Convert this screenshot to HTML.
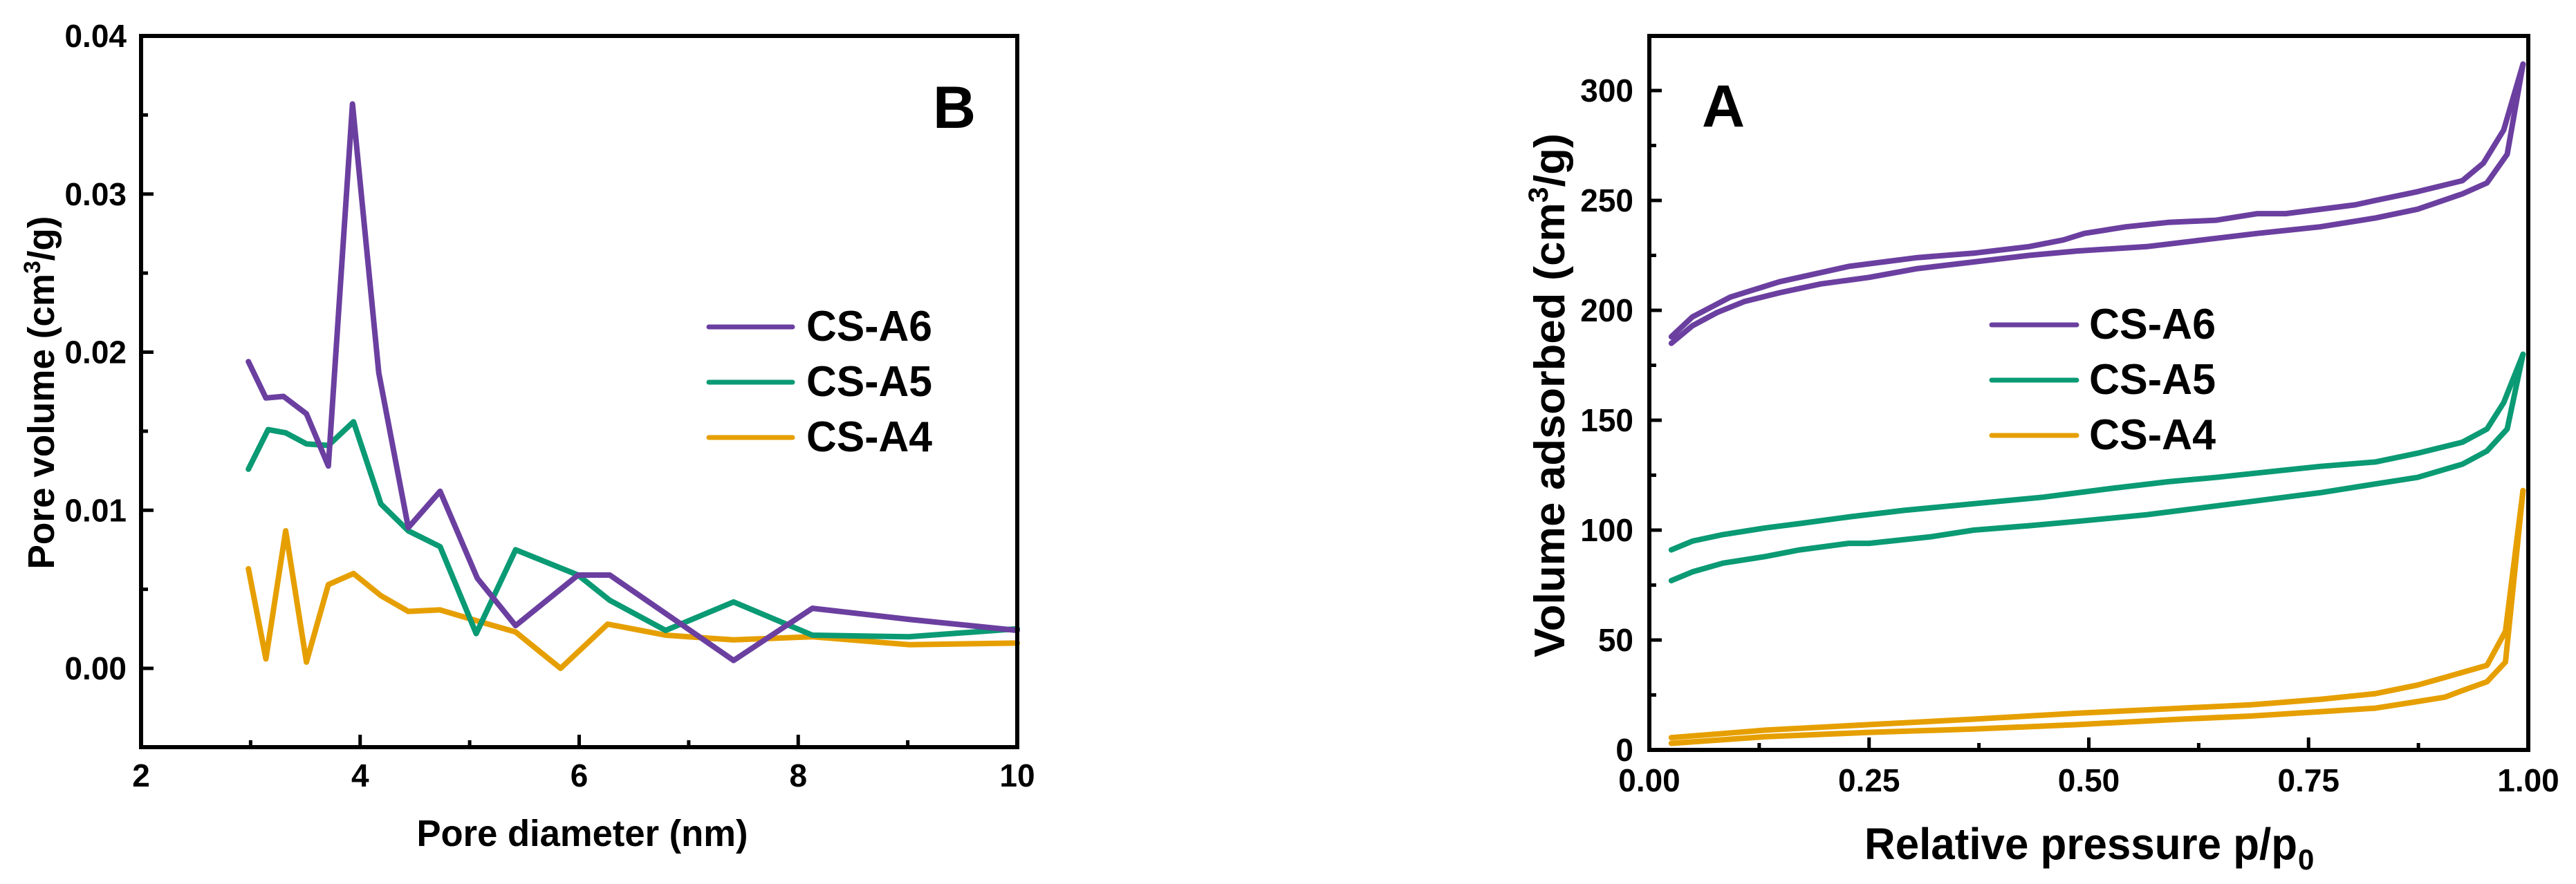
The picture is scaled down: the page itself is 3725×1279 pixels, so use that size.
<!DOCTYPE html>
<html><head><meta charset="utf-8"><style>
html,body{margin:0;padding:0;background:#fff;}
svg{display:block;font-family:"Liberation Sans",Arial,sans-serif;font-weight:bold;}
</style></head><body>
<svg id="fig" width="3725" height="1279" viewBox="0 0 3725 1279" xmlns="http://www.w3.org/2000/svg">
<rect width="3725" height="1279" fill="#fff"/>
<g id="chartB"></g>
<g id="chartA"></g>
</svg>
<script>
// ---- Chart B data (pore size distribution) ----
const bA6x = [2.98,3.14,3.30,3.51,3.71,3.93,4.17,4.44,4.73,5.07,5.42,5.99,6.28,6.93,7.41,8.13,9.01,10.0];
const bA6y = [0.0194,0.0171,0.0172,0.0161,0.0128,0.0357,0.0187,0.0089,0.0112,0.0057,0.0027,0.0059,0.0059,0.0028,0.0005,0.0038,0.0031,0.0024];
const bA5x = [2.98,3.16,3.32,3.51,3.71,3.94,4.19,4.44,4.73,5.06,5.42,5.99,6.28,6.79,7.41,8.13,9.01,10.0];
const bA5y = [0.0126,0.0151,0.0149,0.0142,0.0141,0.0156,0.0104,0.0087,0.0077,0.0022,0.0075,0.0059,0.0043,0.0024,0.0042,0.0021,0.0020,0.0025];
const bA4x = [2.98,3.14,3.32,3.51,3.71,3.94,4.19,4.44,4.73,5.07,5.42,5.83,6.26,6.79,7.41,8.13,9.01,10.0];
const bA4y = [0.0063,0.0006,0.0087,0.0004,0.0053,0.0060,0.0046,0.0036,0.0037,0.0030,0.0023,0.0000,0.0028,0.0021,0.0018,0.0020,0.0015,0.0016];
const bXTicks = [2,4,6,8,10];
const bXTickLabels = ["2","4","6","8","10"];
const bYTicks = [0,0.01,0.02,0.03,0.04];
const bYTickLabels = ["0.00","0.01","0.02","0.03","0.04"];
// ---- Chart A data (isotherms) ----
const aA6adsX = [0.025,0.049,0.077,0.108,0.148,0.195,0.25,0.305,0.369,0.432,0.487,0.566,0.629,0.692,0.763,0.826,0.874,0.925,0.953,0.976,0.994];
const aA6adsY = [185,193,199,204,208,212,215,219,222,225,227,229,232,235,238,242,246,253,258,271,312];
const aA6desX = [0.025,0.049,0.092,0.148,0.227,0.305,0.369,0.432,0.471,0.495,0.542,0.59,0.645,0.692,0.724,0.803,0.826,0.874,0.925,0.949,0.972,0.994];
const aA6desY = [188,197,206,213,220,224,226,229,232,235,238,240,241,244,244,248,250,254,259,267,282,312];
const aA5adsX = [0.025,0.049,0.084,0.132,0.171,0.227,0.25,0.321,0.369,0.432,0.487,0.566,0.605,0.684,0.763,0.826,0.874,0.925,0.953,0.976,0.994];
const aA5adsY = [77,81,85,88,91,94,94,97,100,102,104,107,109,113,117,121,124,130,136,146,180];
const aA5desX = [0.025,0.049,0.084,0.132,0.171,0.227,0.29,0.369,0.448,0.526,0.59,0.645,0.692,0.763,0.826,0.874,0.925,0.953,0.972,0.994];
const aA5desY = [91,95,98,101,103,106,109,112,115,119,122,124,126,129,131,135,140,146,158,180];
const aA4adsX = [0.025,0.132,0.25,0.369,0.487,0.605,0.684,0.763,0.826,0.874,0.905,0.925,0.953,0.974,0.994];
const aA4adsY = [3,6,8,9.5,11.5,14,15.4,17.4,19,22,24,27,31,40,118];
const aA4desX = [0.025,0.132,0.25,0.369,0.487,0.605,0.684,0.763,0.826,0.874,0.905,0.953,0.974,0.994];
const aA4desY = [5.6,9,11.5,14,16.7,19,20.5,23,25.6,29.5,33,38.5,54,118];
const aXTicks = [0,0.25,0.5,0.75,1.0];
const aXTickLabels = ["0.00","0.25","0.50","0.75","1.00"];
const aYTicks = [0,50,100,150,200,250,300];
const aYTickLabels = ["0","50","100","150","200","250","300"];

const NS = "http://www.w3.org/2000/svg";
const C6 = "#6b3fa0", C5 = "#0a9a74", C4 = "#e69f00";
function mk(parent, tag, attrs, text){
  const e = document.createElementNS(NS, tag);
  for (const k in attrs) e.setAttribute(k, attrs[k]);
  if (text !== undefined) e.textContent = text;
  parent.appendChild(e); return e;
}
function lin(d0,d1,r0,r1){ return v => r0 + (v-d0)*(r1-r0)/(d1-d0); }
function line(g, sx, sy, xs, ys, color, w, name){
  const pts = xs.map((x,i)=>sx(x).toFixed(1)+","+sy(ys[i]).toFixed(1)).join(" ");
  const p = mk(g,"polyline",{points:pts,fill:"none",stroke:color,"stroke-width":w,"stroke-linejoin":"round","stroke-linecap":"round"});
  
  
}
function legend(g, x0, x1, tx, ys, names, colors, fs, tl){
  names.forEach((n,i)=>{
    const l = mk(g,"line",{x1:x0,x2:x1,y1:ys[i],y2:ys[i],stroke:colors[i],"stroke-width":7,"stroke-linecap":"round"});
    
    
    const t = mk(g,"text",{x:tx,y:ys[i]+20,"font-size":fs,textLength:tl,lengthAdjust:"spacingAndGlyphs"},n);
    
    
  });
}

// ===== Chart B =====
(function(){
  const g = document.getElementById("chartB");
  const L=204,R=1471,T=52,B=1081;
  const sx = lin(2,10,L,R), sy = lin(0,0.04,967,52);
  for (let v=3; v<10; v+=2){ const t=mk(g,"line",{x1:sx(v),x2:sx(v),y1:B,y2:B-10,stroke:"#000","stroke-width":5});
      }
  for (let v=-0.005; v<0.04; v+=0.01){ const t=mk(g,"line",{x1:L,x2:L+10,y1:sy(v),y2:sy(v),stroke:"#000","stroke-width":5});
      }
  bXTicks.forEach((v,i)=>{
    const t=mk(g,"line",{x1:sx(v),x2:sx(v),y1:B,y2:B-18,stroke:"#000","stroke-width":5});
     
    const lb=mk(g,"text",{x:sx(v),y:1138,"font-size":46,"text-anchor":"middle"},bXTickLabels[i]);
     
  });
  bYTicks.forEach((v,i)=>{
    const t=mk(g,"line",{x1:L,x2:L+18,y1:sy(v),y2:sy(v),stroke:"#000","stroke-width":5});
     
    const lb=mk(g,"text",{x:183,y:sy(v)+16,"font-size":46,"text-anchor":"end"},bYTickLabels[i]);
     
  });
  line(g,sx,sy,bA4x,bA4y,C4,8,"line-cs-a4");
  line(g,sx,sy,bA5x,bA5y,C5,8,"line-cs-a5");
  line(g,sx,sy,bA6x,bA6y,C6,8,"line-cs-a6");
  const fr=mk(g,"rect",{x:L,y:T,width:R-L,height:B-T,fill:"none",stroke:"#000","stroke-width":6});
   
  const pl=mk(g,"text",{x:1380,y:185,"font-size":86,"text-anchor":"middle"},"B");
   
  legend(g,1025,1146,1166,[473,553,633],["CS-A6","CS-A5","CS-A4"],[C6,C5,C4],62,182);
  const xt=mk(g,"text",{x:842,y:1224,"font-size":54,"text-anchor":"middle",textLength:479,lengthAdjust:"spacingAndGlyphs"},"Pore diameter (nm)");
   
  const yt=mk(g,"text",{x:0,y:0,"font-size":54,"text-anchor":"middle",transform:"translate(78,568) rotate(-90)",textLength:511,lengthAdjust:"spacingAndGlyphs"});
   
  yt.appendChild(document.createTextNode("Pore volume (cm"));
  mk(yt,"tspan",{"font-size":34,dy:-20},"3");
  mk(yt,"tspan",{dy:20},"/g)");
})();

// ===== Chart A =====
(function(){
  const g = document.getElementById("chartA");
  const L=2385,R=3656,T=52,B=1085;
  const sx = lin(0,1,L,R), sy = lin(0,300,1085,131);
  for (let v=0.125; v<1; v+=0.25){ const t=mk(g,"line",{x1:sx(v),x2:sx(v),y1:B,y2:B-10,stroke:"#000","stroke-width":5});
      }
  for (let v=25; v<325; v+=50){ const t=mk(g,"line",{x1:L,x2:L+10,y1:sy(v),y2:sy(v),stroke:"#000","stroke-width":5});
      }
  aXTicks.forEach((v,i)=>{
    const t=mk(g,"line",{x1:sx(v),x2:sx(v),y1:B,y2:B-18,stroke:"#000","stroke-width":5});
     
    const lb=mk(g,"text",{x:sx(v),y:1145,"font-size":46,"text-anchor":"middle"},aXTickLabels[i]);
     
  });
  aYTicks.forEach((v,i)=>{
    const t=mk(g,"line",{x1:L,x2:L+18,y1:sy(v),y2:sy(v),stroke:"#000","stroke-width":5});
     
    const lb=mk(g,"text",{x:2362,y:sy(v)+16,"font-size":46,"text-anchor":"end"},aYTickLabels[i]);
     
  });
  line(g,sx,sy,aA4adsX,aA4adsY,C4,8,"cs-a4-adsorption");
  line(g,sx,sy,aA4desX,aA4desY,C4,8,"cs-a4-desorption");
  line(g,sx,sy,aA5adsX,aA5adsY,C5,8,"cs-a5-adsorption");
  line(g,sx,sy,aA5desX,aA5desY,C5,8,"cs-a5-desorption");
  line(g,sx,sy,aA6adsX,aA6adsY,C6,8,"cs-a6-adsorption");
  line(g,sx,sy,aA6desX,aA6desY,C6,8,"cs-a6-desorption");
  const fr=mk(g,"rect",{x:L,y:T,width:R-L,height:B-T,fill:"none",stroke:"#000","stroke-width":6});
   
  const pl=mk(g,"text",{x:2492,y:183,"font-size":86,"text-anchor":"middle"},"A");
   
  legend(g,2880,3003,3021,[470,550,630],["CS-A6","CS-A5","CS-A4"],[C6,C5,C4],62,183);
  const xt=mk(g,"text",{x:2696,y:1243,"font-size":64,textLength:626,lengthAdjust:"spacingAndGlyphs"},"Relative pressure p/p");
   
  const sub=mk(g,"text",{x:3323,y:1258,"font-size":42},"0");
   
  const yt=mk(g,"text",{x:0,y:0,"font-size":62,"text-anchor":"middle",transform:"translate(2262,572) rotate(-90)",textLength:758,lengthAdjust:"spacingAndGlyphs"});
   
  yt.appendChild(document.createTextNode("Volume adsorbed (cm"));
  mk(yt,"tspan",{"font-size":40,dy:-24},"3");
  mk(yt,"tspan",{dy:24},"/g)");
})();
</script>
</body></html>
